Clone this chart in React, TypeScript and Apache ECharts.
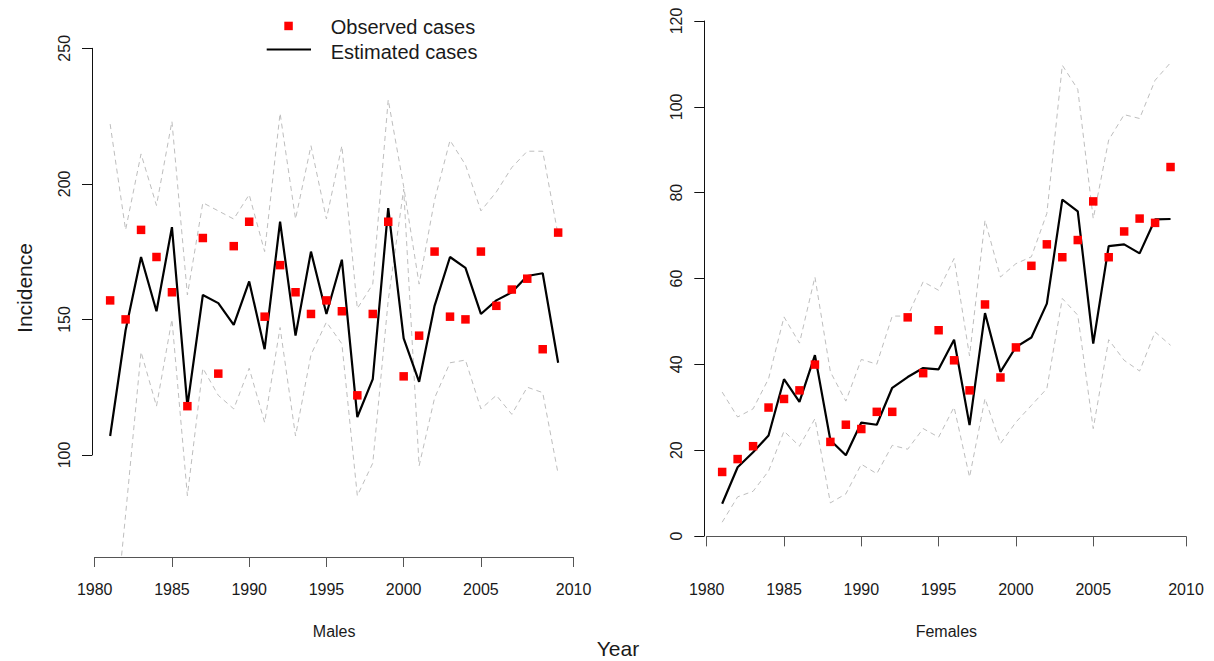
import React, { useEffect, useRef } from "react";
import * as echarts from "echarts";

// Years of observation (one point per year)
const years = [
  1981, 1982, 1983, 1984, 1985, 1986, 1987, 1988, 1989, 1990,
  1991, 1992, 1993, 1994, 1995, 1996, 1997, 1998, 1999, 2000,
  2001, 2002, 2003, 2004, 2005, 2006, 2007, 2008, 2009, 2010,
];

// Males
const maleObserved = [
  157, 150, 183, 173, 160, 118, 180, 130, 177, 186,
  151, 170, 160, 152, 157, 153, 122, 152, 186, 129,
  144, 175, 151, 150, 175, 155, 161, 165, 139, 182,
];
const maleEstimated = [
  107, 146, 173, 153, 184, 118, 159, 156, 148, 164,
  139, 186, 144, 175, 152, 172, 114, 128, 191, 143,
  127, 155, 173, 169, 152, 157, 160, 166, 167, 134,
];
const maleUpper = [
  222, 183, 211, 192, 223, 159, 193, 190, 187, 196,
  175, 226, 187, 214, 187, 214, 154, 163, 231, 199,
  163, 194, 216, 207, 190, 197, 206, 212, 212, 181,
];
const maleLower = [
  20, 78, 138, 118, 150, 85, 132, 122, 117, 132,
  112, 147, 107, 137, 149, 141, 85, 97, 157, 198,
  96, 121, 134, 135, 117, 122, 115, 125, 123, 93,
];

// Females
const femaleObserved = [
  15, 18, 21, 30, 32, 34, 40, 22, 26, 25,
  29, 29, 51, 38, 48, 41, 34, 54, 37, 44,
  63, 68, 65, 69, 78, 65, 71, 74, 73, 86,
];
const femaleEstimated = [
  7.6, 16.1, 19.6, 23.5, 36.6, 31.3, 42.2, 22.4, 18.9, 26.5,
  26.0, 34.6, 37.1, 39.2, 38.9, 45.8, 25.9, 52.0, 38.3, 44.1,
  46.3, 54.2, 78.4, 75.7, 44.9, 67.6, 68.0, 65.9, 73.8, 73.9,
];
const femaleUpper = [
  33.6, 27.8, 29.7, 36.7, 51.1, 45.0, 60.4, 38.3, 31.5, 41.2,
  40.1, 51.3, 51.3, 59.3, 57.3, 64.7, 42.0, 73.6, 60.4, 63.5,
  65.1, 75.2, 109.7, 104.1, 74.0, 92.3, 98.2, 97.3, 106.2, 110.3,
];
const femaleLower = [
  3.3, 9.2, 10.5, 15.2, 24.5, 21.0, 27.4, 7.8, 9.9, 16.8,
  14.6, 21.2, 20.3, 25.1, 23.1, 30.1, 13.8, 32.1, 21.6, 26.6,
  30.5, 34.4, 55.4, 51.5, 25.1, 45.8, 41.0, 38.5, 47.6, 44.5,
];

// Axis ticks
const xTickValues = [1980, 1985, 1990, 1995, 2000, 2005, 2011];
const xTickLabels = ["1980", "1985", "1990", "1995", "2000", "2005", "2010"];
const maleYTicks = [100, 150, 200, 250];
const femaleYTicks = [0, 20, 40, 60, 80, 100, 120];

const FONT = "'Liberation Sans', Arial, Helvetica, sans-serif";
const TEXT = "#1a1a1a";

const pairs = (vals: number[]) => years.map((y, i) => [y, vals[i]]);

function panelSeries(
  gridIdx: number,
  observed: number[],
  estimated: number[],
  upper: number[],
  lower: number[]
) {
  const base = { xAxisIndex: gridIdx, yAxisIndex: gridIdx, silent: true, clip: true };
  const dashed = {
    type: "line",
    symbol: "none",
    lineStyle: { color: "#bebebe", width: 1, type: [5, 4] },
    z: 2,
  };
  return [
    { ...base, ...dashed, name: "upper", data: pairs(upper) },
    { ...base, ...dashed, name: "lower", data: pairs(lower) },
    {
      ...base,
      type: "line",
      name: "Estimated cases",
      symbol: "none",
      lineStyle: { color: "#000", width: 2.2 },
      z: 3,
      data: pairs(estimated),
    },
    {
      ...base,
      type: "scatter",
      name: "Observed cases",
      symbol: "rect",
      symbolSize: 8.5,
      itemStyle: { color: "#ff0000", opacity: 1 },
      z: 4,
      data: pairs(observed),
    },
  ];
}

function xAxisFor(gridIdx: number, title: string) {
  return {
    gridIndex: gridIdx,
    type: "value",
    min: 1980,
    max: 2011,
    name: title,
    nameLocation: "middle",
    nameGap: 66,
    nameTextStyle: { fontFamily: FONT, fontSize: 16, color: TEXT },
    axisLine: { show: true, lineStyle: { color: "#555", width: 1 } },
    axisTick: { show: true, customValues: xTickValues, length: 10, lineStyle: { color: "#555" } },
    axisLabel: {
      show: true,
      customValues: xTickValues,
      margin: 24,
      fontFamily: FONT,
      fontSize: 16,
      color: TEXT,
      formatter: (v: number) => xTickLabels[xTickValues.indexOf(v)] ?? "",
    },
    splitLine: { show: false },
  };
}

function yScaleFor(gridIdx: number, min: number, max: number) {
  return { gridIndex: gridIdx, type: "value", min, max, show: false };
}

function yVisibleAxis(gridIdx: number, ticks: number[], min: number, max: number, interval: number) {
  return {
    gridIndex: gridIdx,
    type: "value",
    min,
    max,
    interval,
    axisLine: { show: true, lineStyle: { color: "#111", width: 1 } },
    axisTick: { show: true, length: 10, lineStyle: { color: "#111" }, customValues: ticks },
    axisLabel: {
      show: true,
      rotate: 90,
      margin: 20,
      fontFamily: FONT,
      fontSize: 16,
      color: TEXT,
      customValues: ticks,
    },
    splitLine: { show: false },
  };
}

export default function App() {
  const ref = useRef<HTMLDivElement>(null);

  useEffect(() => {
    if (!ref.current) return;
    const chart = echarts.init(ref.current, null, { renderer: "svg" });

    chart.setOption({
      animation: false,
      backgroundColor: "#ffffff",
      grid: [
        // data area, males
        { left: 94.7, width: 478.9, top: 0.4, height: 556.6 },
        // visible incidence axis, males
        { left: 92, width: 10, top: 48.3, height: 406.7 },
        // data area, females
        { left: 706.7, width: 479.3, top: 0.4, height: 556.6 },
        // visible incidence axis, females
        { left: 704.3, width: 10, top: 21, height: 515 },
      ],
      xAxis: [
        xAxisFor(0, "Males"),
        { gridIndex: 1, type: "value", show: false },
        xAxisFor(2, "Females"),
        { gridIndex: 3, type: "value", show: false },
      ],
      yAxis: [
        yScaleFor(0, 62.4, 267.6),
        yVisibleAxis(1, maleYTicks, 100, 250, 50),
        yScaleFor(2, -4.8, 124.8),
        yVisibleAxis(3, femaleYTicks, 0, 120, 20),
      ],
      series: [
        ...panelSeries(0, maleObserved, maleEstimated, maleUpper, maleLower),
        ...panelSeries(2, femaleObserved, femaleEstimated, femaleUpper, femaleLower),
      ],
      graphic: [
        // legend
        { type: "rect", shape: { x: 284.3, y: 21.7, width: 8.5, height: 8.5 }, style: { fill: "#ff0000" } },
        { type: "line", shape: { x1: 266.7, y1: 49.5, x2: 311, y2: 49.5 }, style: { stroke: "#000", lineWidth: 2.2 } },
        {
          type: "text",
          x: 330.7,
          y: 26.5,
          style: { text: "Observed cases", font: `20px ${FONT}`, fill: TEXT, verticalAlign: "middle", align: "left" },
        },
        {
          type: "text",
          x: 330.7,
          y: 51.5,
          style: { text: "Estimated cases", font: `20px ${FONT}`, fill: TEXT, verticalAlign: "middle", align: "left" },
        },
        // shared axis titles
        {
          type: "text",
          x: 24,
          y: 288,
          rotation: Math.PI / 2,
          style: { text: "Incidence", font: `21px ${FONT}`, fill: TEXT, verticalAlign: "middle", align: "center" },
        },
        {
          type: "text",
          x: 618,
          y: 648,
          style: { text: "Year", font: `21px ${FONT}`, fill: TEXT, verticalAlign: "middle", align: "center" },
        },
      ],
    });

    return () => chart.dispose();
  }, []);

  return (
    <div
      ref={ref}
      style={{ position: "fixed", left: 0, top: 0, width: 1214, height: 661, background: "#fff" }}
    />
  );
}
